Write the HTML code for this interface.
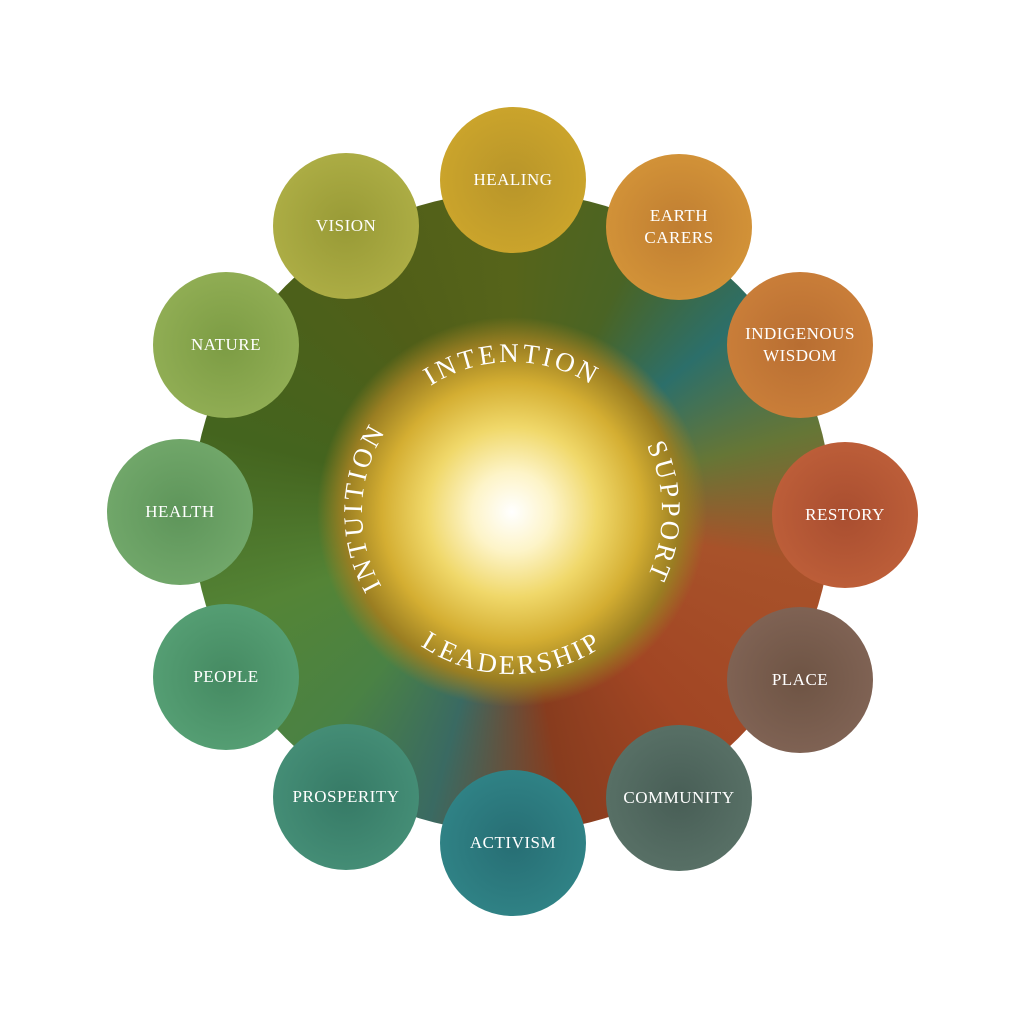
<!DOCTYPE html>
<html><head><meta charset="utf-8"><style>
html,body{margin:0;padding:0;background:#fff;}
.wrap{position:relative;width:1024px;height:1024px;overflow:hidden;background:#fff;}
.art{position:absolute;left:192px;top:192px;width:640px;height:640px;border-radius:50%;
background:conic-gradient(from 0deg,#56641a 0deg,#4a6424 25deg,#2c6f6a 50deg,#667636 75deg,#a8522a 100deg,#a24624 140deg,#883c1e 170deg,#3a6a62 195deg,#4a8244 220deg,#548436 250deg,#44641e 285deg,#505e18 330deg,#56641a 360deg);}
.glow{position:absolute;left:317px;top:317px;width:390px;height:390px;border-radius:50%;
background:radial-gradient(circle at 50% 50%,#ffffff 0px,#fdf4c8 40px,#f0d86a 85px,#d4ae32 130px,#9a7e22 168px,rgba(90,80,25,0) 195px);}
.c{position:absolute;width:146px;height:146px;border-radius:50%;color:#fff;
font-family:"Liberation Serif",serif;font-size:17px;letter-spacing:0.5px;
display:flex;align-items:center;justify-content:center;text-align:center;line-height:22px;}
svg{position:absolute;left:0;top:0;}
</style></head><body><div class="wrap">
<div class="art"></div>
<div class="glow"></div>
<svg width="1024" height="1024">
<defs>
<path id="cw" d="M512,662 A150,150 0 1,1 512,362 A150,150 0 1,1 512,662"/>
<path id="ccw" d="M350,512 A162,162 0 0,0 674,512"/>
</defs>
<g font-family="Liberation Serif,serif" font-size="27" fill="#fff" letter-spacing="3">
<text><textPath href="#cw" startOffset="50%" text-anchor="middle">INTENTION</textPath></text>
<text><textPath href="#cw" startOffset="75%" text-anchor="middle">SUPPORT</textPath></text>
<text><textPath href="#cw" startOffset="25.5%" text-anchor="middle">INTUITION</textPath></text>
<text><textPath href="#ccw" startOffset="50%" text-anchor="middle">LEADERSHIP</textPath></text>
</g>
</svg>
<div class="c" style="left:440px;top:107px;background:radial-gradient(circle,#b8952a,#d2aa2c);">HEALING</div>
<div class="c" style="left:606px;top:154px;background:radial-gradient(circle,#c07e32,#d99a3a);">EARTH<br>CARERS</div>
<div class="c" style="left:727px;top:272px;background:radial-gradient(circle,#b86e32,#d0843c);">INDIGENOUS<br>WISDOM</div>
<div class="c" style="left:772px;top:442px;background:radial-gradient(circle,#a94e30,#c4643c);">RESTORY</div>
<div class="c" style="left:727px;top:607px;background:radial-gradient(circle,#6e5444,#86685a);">PLACE</div>
<div class="c" style="left:606px;top:725px;background:radial-gradient(circle,#485e56,#5e776c);">COMMUNITY</div>
<div class="c" style="left:440px;top:770px;background:radial-gradient(circle,#276e74,#338a8c);">ACTIVISM</div>
<div class="c" style="left:273px;top:724px;background:radial-gradient(circle,#367a66,#4a957c);">PROSPERITY</div>
<div class="c" style="left:153px;top:604px;background:radial-gradient(circle,#458a62,#5ba67a);">PEOPLE</div>
<div class="c" style="left:107px;top:439px;background:radial-gradient(circle,#5e955a,#78ae70);">HEALTH</div>
<div class="c" style="left:153px;top:272px;background:radial-gradient(circle,#7c9c44,#98b45a);">NATURE</div>
<div class="c" style="left:273px;top:153px;background:radial-gradient(circle,#989a36,#b4b44a);">VISION</div>
</div></body></html>
